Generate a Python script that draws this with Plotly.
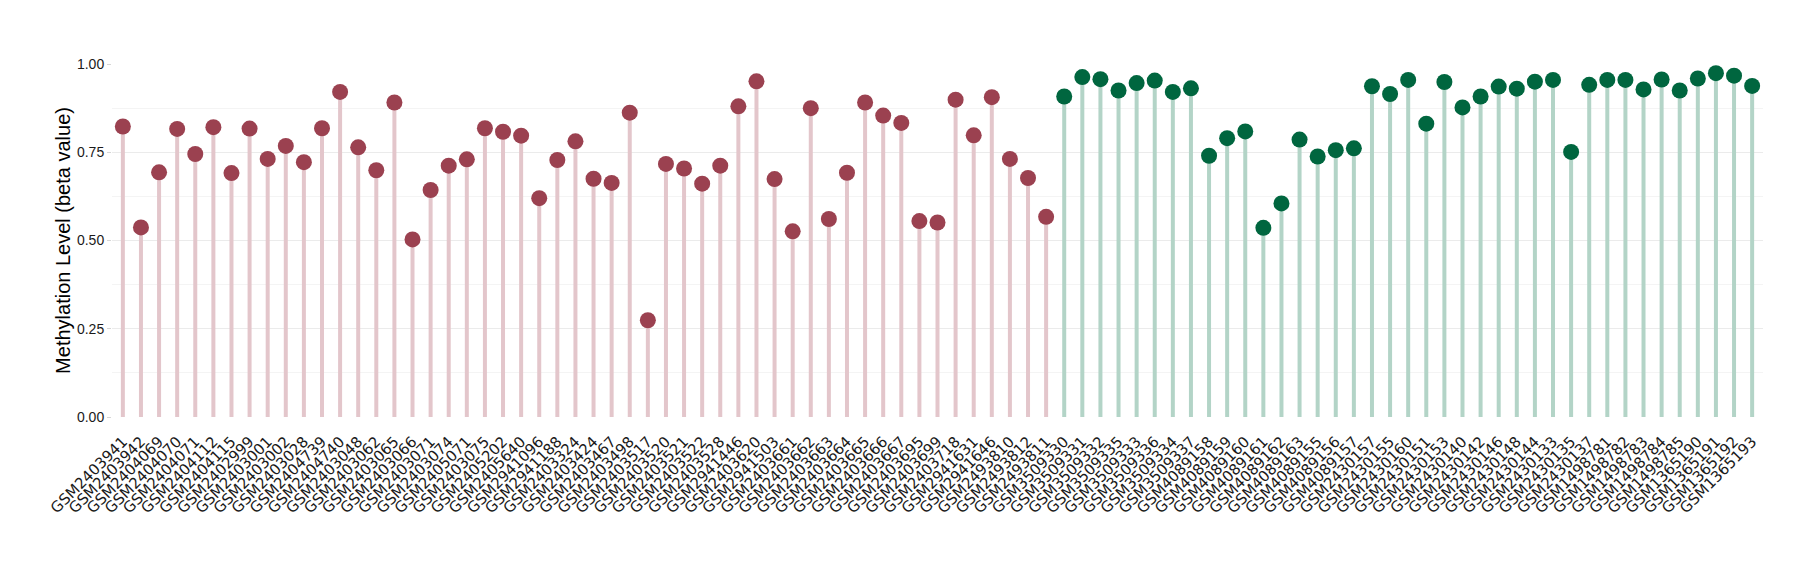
import plotly.graph_objects as go

group1_samples = [
    "GSM2403941", "GSM2403942", "GSM2404069", "GSM2404070", "GSM2404071", "GSM2404112",
    "GSM2404115", "GSM2402999", "GSM2403001", "GSM2403002", "GSM2403028", "GSM2404739",
    "GSM2404740", "GSM2403048", "GSM2403062", "GSM2403065", "GSM2403066", "GSM2403071",
    "GSM2403074", "GSM2405071", "GSM2403075", "GSM2405202", "GSM2405640", "GSM2941096",
    "GSM2941188", "GSM2403324", "GSM2403424", "GSM2403467", "GSM2403498", "GSM2403517",
    "GSM2403520", "GSM2403521", "GSM2403522", "GSM2403528", "GSM2941446", "GSM2403620",
    "GSM2941503", "GSM2403661", "GSM2403662", "GSM2403663", "GSM2403664", "GSM2403665",
    "GSM2403666", "GSM2403667", "GSM2403695", "GSM2403699", "GSM2403718", "GSM2941631",
    "GSM2941646", "GSM2493810", "GSM2493812", "GSM2493811",
]
group1_values = [
    0.823, 0.537, 0.693, 0.816, 0.745, 0.821, 0.691, 0.817, 0.731, 0.768, 0.722, 0.818,
    0.921, 0.764, 0.699, 0.891, 0.503, 0.643, 0.712, 0.730, 0.818, 0.808, 0.797, 0.620,
    0.728, 0.781, 0.675, 0.663, 0.862, 0.274, 0.717, 0.704, 0.661, 0.712, 0.880, 0.951,
    0.674, 0.526, 0.875, 0.561, 0.692, 0.891, 0.854, 0.833, 0.555, 0.551, 0.899, 0.798,
    0.906, 0.731, 0.677, 0.567,
]

group2_samples = [
    "GSM3509330", "GSM3509331", "GSM3509332", "GSM3509335", "GSM3509333", "GSM3509336",
    "GSM3509334", "GSM3509337", "GSM4089158", "GSM4089159", "GSM4089160", "GSM4089161",
    "GSM4089162", "GSM4089163", "GSM4089155", "GSM4089156", "GSM4089157", "GSM2430157",
    "GSM2430155", "GSM2430160", "GSM2430151", "GSM2430153", "GSM2430140", "GSM2430142",
    "GSM2430146", "GSM2430148", "GSM2430144", "GSM2430133", "GSM2430135", "GSM2430137",
    "GSM1498781", "GSM1498782", "GSM1498783", "GSM1498784", "GSM1498785", "GSM1365190",
    "GSM1365191", "GSM1365192", "GSM1365193",
]
group2_values = [
    0.908, 0.963, 0.957, 0.925, 0.946, 0.953, 0.921, 0.931, 0.740, 0.790, 0.809, 0.536,
    0.605, 0.786, 0.738, 0.756, 0.761, 0.937, 0.915, 0.955, 0.831, 0.949, 0.877, 0.908,
    0.936, 0.930, 0.950, 0.955, 0.751, 0.941, 0.955, 0.955, 0.928, 0.956, 0.925, 0.959,
    0.974, 0.967, 0.938,
]

y_ticks = [0.0, 0.25, 0.5, 0.75, 1.0]
y_ticktext = ["0.00", "0.25", "0.50", "0.75", "1.00"]

groups = [
    (group1_samples, group1_values, "#9B4150", "#E3C6CB"),
    (group2_samples, group2_values, "#00663F", "#B3D4C7"),
]

fig = go.Figure()
for samples, values, dot_color, stem_color in groups:
    fig.add_trace(go.Scatter(
        x=samples,
        y=values,
        mode="markers",
        marker=dict(size=16, color=dot_color, line=dict(width=0)),
        error_y=dict(
            type="data",
            symmetric=False,
            array=[0] * len(values),
            arrayminus=values,
            thickness=4,
            width=0,
            color=stem_color,
        ),
        cliponaxis=False,
        showlegend=False,
    ))

all_samples = group1_samples + group2_samples

fig.update_layout(
    width=1812,
    height=572,
    paper_bgcolor="white",
    plot_bgcolor="white",
    margin=dict(l=104, r=57, t=56, b=163),
    font=dict(family="Liberation Sans, Arial, sans-serif", color="#1a1a1a"),
    xaxis=dict(
        type="category",
        categoryorder="array",
        categoryarray=all_samples,
        range=[-0.6, len(all_samples) - 0.4],
        tickangle=-45,
        tickfont=dict(family="DejaVu Sans", size=15, color="#1a1a1a"),
        ticklabelstandoff=12,
        showgrid=False,
        showline=False,
        zeroline=False,
        ticks="",
    ),
    yaxis=dict(
        range=[0, 1.0],
        tickvals=y_ticks,
        ticktext=y_ticktext,
        tickfont=dict(family="Liberation Sans", size=14, color="#1a1a1a"),
        showgrid=True,
        gridcolor="#EBEBEB",
        gridwidth=1,
        zeroline=False,
        showline=False,
        ticks="outside",
        ticklen=4,
        tickcolor="#D6D6D6",
        tickwidth=1,
        minor=dict(tickvals=[0.125, 0.375, 0.625, 0.875], showgrid=True, gridcolor="#F4F4F4", gridwidth=1),
        title=dict(text="Methylation Level (beta value)", font=dict(family="Liberation Sans", size=20, color="#000000"), standoff=0),
    ),
)

fig.write_html("out.html")
